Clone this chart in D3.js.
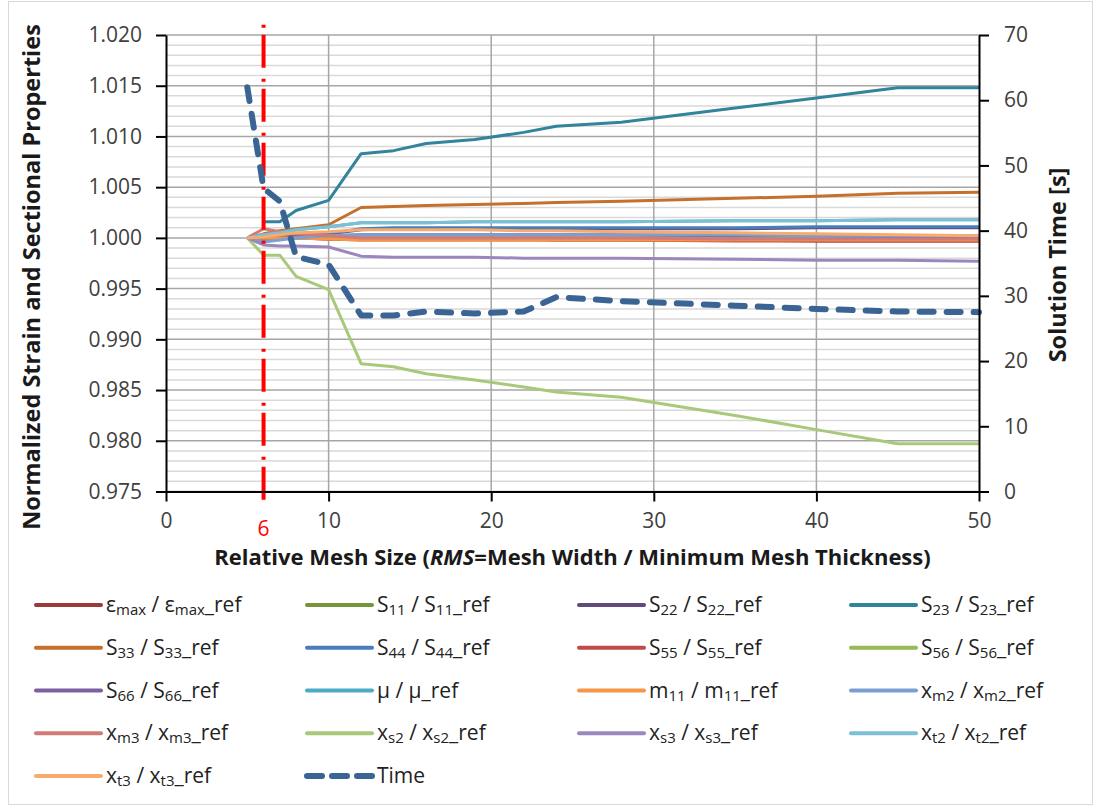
<!DOCTYPE html>
<html lang="en">
<head>
<meta charset="utf-8">
<title>Mesh size convergence</title>
<script src="https://d3js.org/d3.v7.min.js"></script>
<style>
  body { margin: 0; background: #fff; }
  text { font-family: "Open Sans", "DejaVu Sans", sans-serif; }
</style>
</head>
<body>
<div id="chart"></div>
<script>
// ---------------- data ----------------
// relative mesh size (x)
var rms = [5, 6, 7, 8, 10, 12, 14, 16, 19, 22, 24, 28, 35, 40, 45, 50];

var epsMax = [1.0000, 1.0002, 1.0001, 1.0000, 0.9999, 0.9999, 0.9999, 0.9999, 0.9999, 0.9999, 0.9998, 0.9998, 0.9998, 0.9997, 0.9997, 0.9997];
var s11    = [1.0000, 1.0000, 1.0000, 1.0000, 1.0000, 1.0000, 1.0000, 1.0000, 1.0000, 1.0000, 1.0000, 1.0000, 1.0000, 1.0000, 1.0000, 1.0000];
var s22    = [1.0000, 0.9999, 1.0000, 1.0002, 1.0004, 1.0008, 1.0009, 1.0009, 1.0009, 1.0009, 1.0009, 1.0009, 1.0009, 1.0010, 1.0010, 1.0010];
var s23    = [null,   1.0016, 1.0016, 1.0027, 1.0037, 1.0083, 1.0086, 1.0093, 1.0097, 1.0104, 1.0110, 1.0114, 1.0128, 1.0138, 1.0148, 1.0148];
var s33    = [1.0000, 1.0004, 1.0007, 1.0009, 1.0013, 1.0030, 1.0031, 1.0032, 1.0033, 1.0034, 1.0035, 1.0036, 1.0039, 1.0041, 1.0044, 1.0045];
var s44    = [1.0000, 0.9998, 0.9999, 1.0002, 1.0004, 1.0009, 1.0010, 1.0010, 1.0010, 1.0010, 1.0010, 1.0010, 1.0010, 1.0011, 1.0011, 1.0011];
var s55    = [1.0000, 1.0001, 1.0000, 1.0000, 0.9999, 0.9998, 0.9998, 0.9998, 0.9998, 0.9998, 0.9998, 0.9998, 0.9997, 0.9997, 0.9997, 0.9997];
var s56    = [1.0000, 1.0000, 1.0000, 1.0000, 1.0000, 1.0000, 1.0000, 1.0000, 1.0000, 1.0000, 1.0000, 1.0000, 1.0000, 1.0000, 1.0000, 1.0000];
var s66    = [1.0000, 1.0000, 1.0001, 1.0002, 1.0002, 1.0003, 1.0003, 1.0003, 1.0003, 1.0003, 1.0003, 1.0003, 1.0002, 1.0002, 1.0001, 1.0001];
var mu     = [1.0000, 1.0003, 1.0005, 1.0008, 1.0011, 1.0015, 1.0015, 1.0015, 1.0016, 1.0016, 1.0016, 1.0016, 1.0017, 1.0017, 1.0018, 1.0018];
var m11    = [1.0000, 1.0000, 1.0000, 1.0000, 0.9999, 0.9998, 0.9998, 0.9998, 0.9998, 0.9998, 0.9998, 0.9998, 0.9998, 0.9998, 0.9998, 0.9998];
var xm2    = [1.0000, 0.9996, 0.9998, 1.0000, 1.0002, 1.0003, 1.0003, 1.0003, 1.0003, 1.0003, 1.0003, 1.0003, 1.0003, 1.0002, 1.0002, 1.0002];
var xm3    = [1.0000, 1.0009, 1.0006, 1.0004, 1.0002, 1.0000, 1.0000, 1.0000, 1.0000, 1.0000, 1.0000, 1.0000, 0.9999, 0.9999, 0.9999, 0.9999];
var xs2    = [1.0000, 0.9983, 0.9983, 0.9962, 0.9949, 0.9876, 0.9873, 0.9866, 0.9860, 0.9853, 0.9848, 0.9843, 0.9825, 0.9811, 0.9797, 0.9797];
var xs3    = [1.0000, 0.9993, 0.9992, 0.9992, 0.9991, 0.9982, 0.9981, 0.9981, 0.9981, 0.9980, 0.9980, 0.9980, 0.9979, 0.9978, 0.9978, 0.9977];
var xt2    = [1.0000, 1.0003, 1.0005, 1.0008, 1.0011, 1.0015, 1.0015, 1.0015, 1.0016, 1.0016, 1.0016, 1.0016, 1.0017, 1.0017, 1.0018, 1.0018];
var xt3    = [1.0000, 1.0001, 1.0003, 1.0005, 1.0006, 1.0008, 1.0008, 1.0008, 1.0008, 1.0007, 1.0007, 1.0006, 1.0005, 1.0004, 1.0003, 1.0002];

// solution time [s] (right axis)
var solTime = [62.0, 46.5, 44.5, 36.0, 34.8, 27.0, 27.0, 27.6, 27.3, 27.6, 29.8, 29.2, 28.5, 28.0, 27.6, 27.5];

var seriesValues = [epsMax, s11, s22, s23, s33, s44, s55, s56, s66, mu, m11, xm2, xm3, xs2, xs3, xt2, xt3];
// {..} = subscript
var seriesNames = [
  "ε{max} / ε{max}_ref", "S{11} / S{11}_ref", "S{22} / S{22}_ref", "S{23} / S{23}_ref",
  "S{33} / S{33}_ref", "S{44} / S{44}_ref", "S{55} / S{55}_ref", "S{56} / S{56}_ref",
  "S{66} / S{66}_ref", "μ / μ_ref", "m{11} / m{11}_ref", "x{m2} / x{m2}_ref",
  "x{m3} / x{m3}_ref", "x{s2} / x{s2}_ref", "x{s3} / x{s3}_ref", "x{t2} / x{t2}_ref",
  "x{t3} / x{t3}_ref"
];
var seriesColors = [
  "#9A3B3A", "#77933C", "#604A7B", "#31849B",
  "#C5702C", "#4A7EBB", "#BE4B48", "#98B954",
  "#7D60A0", "#4BACC6", "#F79646", "#7C9FD3",
  "#D07B78", "#A9C97A", "#9C86BE", "#7BC0D5",
  "#F9AB6B"
];
var timeName = "Time";
var timeColor = "#3A6494";

var xTicks = [0, 10, 20, 30, 40, 50];
var yLeftTicks = [0.975, 0.980, 0.985, 0.990, 0.995, 1.000, 1.005, 1.010, 1.015, 1.020];
var yRightTicks = [0, 10, 20, 30, 40, 50, 60, 70];

// chosen mesh size marker
var markX = 6;
var markYSpan = [1.0210, 0.9733];

// ---------------- layout ----------------
var W = 1101, H = 807;
var plot = { left: 166, right: 979, top: 35, bottom: 491.5 };

var svg = d3.select("#chart")
  .append("svg")
    .attr("width", W)
    .attr("height", H);

// chart border
svg.append("rect")
  .attr("x", 8.5).attr("y", 1.5)
  .attr("width", 1084).attr("height", 803)
  .attr("fill", "none")
  .attr("stroke", "#D9D9D9")
  .attr("stroke-width", 1);

var x = d3.scaleLinear().domain([0, 50]).range([plot.left, plot.right]);
var yL = d3.scaleLinear().domain([0.975, 1.020]).range([plot.bottom, plot.top]);
var yR = d3.scaleLinear().domain([0, 70]).range([plot.bottom, plot.top]);

// ---------------- grid ----------------
var minor = d3.range(0, 46).map(function(i) { return +(0.975 + i * 0.001).toFixed(3); });
svg.append("g")
  .selectAll("line")
  .data(minor.filter(function(d, i) { return i % 5 != 0; }))
  .enter()
  .append("line")
    .attr("x1", plot.left).attr("x2", plot.right)
    .attr("y1", function(d) { return yL(d); })
    .attr("y2", function(d) { return yL(d); })
    .attr("stroke", "#D9D9D9")
    .attr("stroke-width", 1.5);

svg.append("g")
  .selectAll("line")
  .data(yLeftTicks)
  .enter()
  .append("line")
    .attr("x1", plot.left).attr("x2", plot.right)
    .attr("y1", function(d) { return yL(d); })
    .attr("y2", function(d) { return yL(d); })
    .attr("stroke", "#A6A6A6")
    .attr("stroke-width", 1.5);

svg.append("g")
  .selectAll("line")
  .data(xTicks.slice(1, -1))
  .enter()
  .append("line")
    .attr("x1", function(d) { return x(d); })
    .attr("x2", function(d) { return x(d); })
    .attr("y1", plot.top).attr("y2", plot.bottom)
    .attr("stroke", "#A6A6A6")
    .attr("stroke-width", 1.5);

// ---------------- series ----------------
var line = d3.line()
  .defined(function(d) { return d[1] != null; })
  .x(function(d) { return x(d[0]); })
  .y(function(d) { return yL(d[1]); });

seriesValues.forEach(function(vals, i) {
  svg.append("path")
    .datum(d3.zip(rms, vals))
    .attr("d", line)
    .attr("fill", "none")
    .attr("stroke", seriesColors[i])
    .attr("stroke-width", 3)
    .attr("stroke-linejoin", "round");
});

// marker line at RMS = 6
svg.append("line")
  .attr("x1", x(markX)).attr("x2", x(markX))
  .attr("y1", yL(markYSpan[0])).attr("y2", yL(markYSpan[1]))
  .attr("stroke", "#FF0000")
  .attr("stroke-width", 4)
  .attr("stroke-dasharray", "3,7,33,11");

var timeLine = d3.line()
  .x(function(d) { return x(d[0]); })
  .y(function(d) { return yR(d[1]); });

svg.append("path")
  .datum(d3.zip(rms, solTime))
  .attr("d", timeLine)
  .attr("fill", "none")
  .attr("stroke", timeColor)
  .attr("stroke-width", 6)
  .attr("stroke-linecap", "round")
  .attr("stroke-linejoin", "round")
  .attr("stroke-dasharray", "14,13");

// ---------------- axes ----------------
function styleAxis(g) {
  g.attr("font-size", 21).attr("font-family", '"Open Sans", sans-serif');
  g.select(".domain").attr("stroke", "#000").attr("stroke-width", 2);
  g.selectAll(".tick line").attr("stroke", "#000").attr("stroke-width", 2);
  g.selectAll(".tick text")
    .attr("fill", "#404040")
    .attr("font-size", 21);
}

svg.append("g")
  .attr("transform", "translate(" + plot.left + ",0)")
  .call(d3.axisLeft(yL).tickValues(yLeftTicks).tickFormat(d3.format(".3f"))
    .tickSize(10).tickSizeOuter(0).tickPadding(14))
  .call(styleAxis);

svg.append("g")
  .attr("transform", "translate(" + plot.right + ",0)")
  .call(d3.axisRight(yR).tickValues(yRightTicks)
    .tickSize(10).tickSizeOuter(0).tickPadding(15))
  .call(styleAxis);

svg.append("g")
  .attr("transform", "translate(0," + plot.bottom + ")")
  .call(d3.axisBottom(x).tickValues(xTicks)
    .tickSize(10).tickSizeOuter(0).tickPadding(12))
  .call(styleAxis);

// red "6" under the axis
svg.append("text")
  .attr("x", x(markX))
  .attr("y", 536)
  .attr("text-anchor", "middle")
  .attr("fill", "#FF0000")
  .attr("font-size", 21)
  .text(markX);

// ---------------- titles ----------------
var xTitle = svg.append("text")
  .attr("x", (plot.left + plot.right) / 2)
  .attr("y", 565)
  .attr("text-anchor", "middle")
  .attr("fill", "#1a1a1a")
  .attr("font-size", 22)
  .attr("font-weight", "bold");
xTitle.append("tspan").text("Relative Mesh Size (");
xTitle.append("tspan").attr("font-style", "italic").text("RMS");
xTitle.append("tspan").text("=Mesh Width / Minimum Mesh Thickness)");

svg.append("text")
  .attr("transform", "translate(40,277) rotate(-90)")
  .attr("text-anchor", "middle")
  .attr("fill", "#1a1a1a")
  .attr("font-size", 23.5)
  .attr("font-weight", "bold")
  .text("Normalized Strain and Sectional Properties");

svg.append("text")
  .attr("transform", "translate(1066,265) rotate(-90)")
  .attr("text-anchor", "middle")
  .attr("fill", "#1a1a1a")
  .attr("font-size", 23.5)
  .attr("font-weight", "bold")
  .text("Solution Time [s]");

// ---------------- legend ----------------
var legX = [36, 307, 579, 851];
var legY0 = 605, legDY = 42.75;

// split "a{sub}b" into tspans; subscripts are smaller and lowered
function addLabel(t, str) {
  var shift = 0;
  str.split(/(\{[^}]*\})/).forEach(function(part) {
    if (!part) return;
    var isSub = part.charAt(0) == "{";
    var target = isSub ? 3 : 0;
    t.append("tspan")
      .attr("dy", target - shift)
      .attr("font-size", isSub ? 15 : 21)
      .text(isSub ? part.slice(1, -1) : part);
    shift = target;
  });
}

var legItems = seriesNames.map(function(n, i) { return { name: n, color: seriesColors[i], dash: false }; });
legItems.push({ name: timeName, color: timeColor, dash: true });

legItems.forEach(function(d, i) {
  var cx = legX[i % 4], cy = legY0 + Math.floor(i / 4) * legDY;
  svg.append("line")
    .attr("x1", cx).attr("x2", cx + 65)
    .attr("y1", cy).attr("y2", cy)
    .attr("stroke", d.color)
    .attr("stroke-width", d.dash ? 6 : 4)
    .attr("stroke-linecap", "round")
    .attr("stroke-dasharray", d.dash ? "15,10" : null);
  var t = svg.append("text")
    .attr("x", cx + 70)
    .attr("y", cy + 7)
    .attr("fill", "#222")
    .attr("font-size", 21);
  addLabel(t, d.name);
});
</script>
</body>
</html>
